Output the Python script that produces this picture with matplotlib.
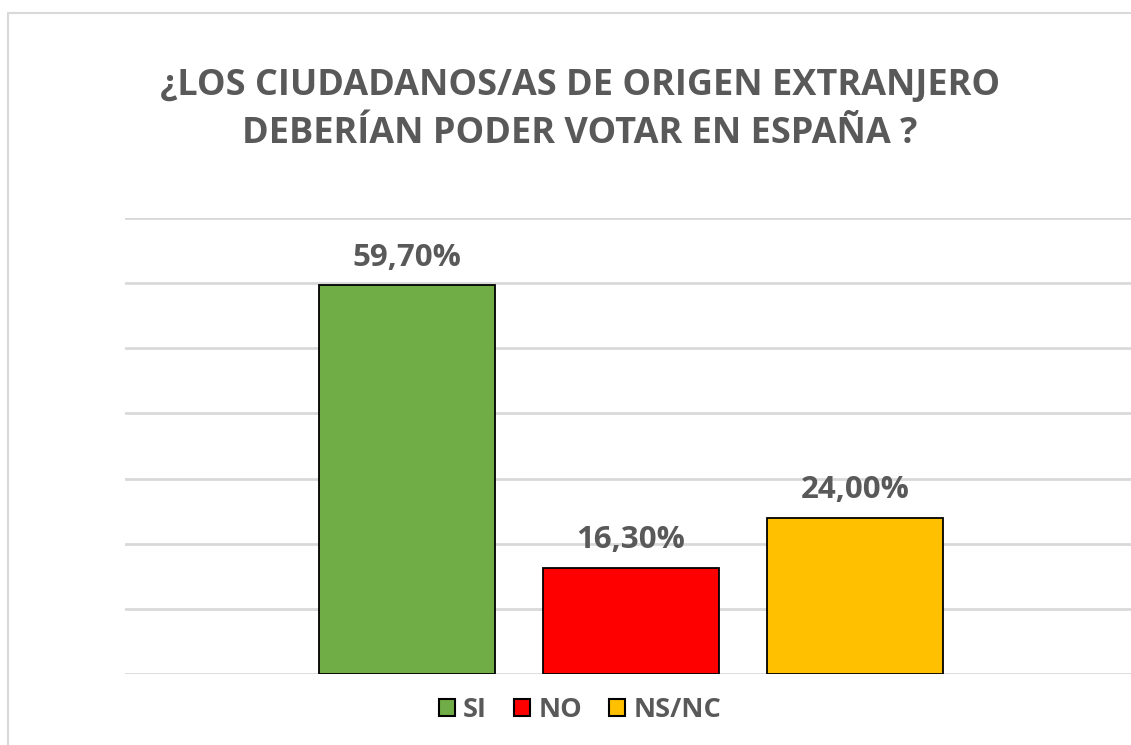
import matplotlib
matplotlib.use("Agg")
import matplotlib.pyplot as plt
from matplotlib.patches import Rectangle

# data
labels = ["SI", "NO", "NS/NC"]
values = [59.7, 16.3, 24.0]
colors = ["#70ad47", "#ff0000", "#ffc000"]
value_labels = ["59,70%", "16,30%", "24,00%"]

W, H = 1131, 745
plt.rcParams['font.family'] = ['Open Sans', 'DejaVu Sans']
txt = "#595959"

fig = plt.figure(figsize=(W / 100, H / 100), dpi=100)

# chart border (cut off on right and bottom as in the picture)
fig.patches.append(Rectangle((8 / W, -0.1), 1.2, 1 - 13 / H + 0.1, transform=fig.transFigure,
                             fill=False, edgecolor="#d9d9d9", linewidth=1.5))

ax = fig.add_axes([125 / W, (H - 674) / H, (1137 - 125) / W, (674 - 218) / H])
x = range(len(values))
ax.bar(x, values, width=0.79, color=colors, edgecolor="black", linewidth=1.3, zorder=3,
       label=labels)
ax.set_xlim(-1.259, 3.259)
ax.set_ylim(0, 70)
ax.set_yticks(range(0, 71, 10))
ax.yaxis.grid(True, color="#d9d9d9", linewidth=2)
ax.tick_params(left=False, bottom=False, labelleft=False, labelbottom=False)
for s in ax.spines.values():
    s.set_visible(False)

for i, v in enumerate(values):
    ax.annotate(value_labels[i], (i, v), xytext=(0, 9), textcoords="offset points",
                ha="center", va="bottom", fontsize=22.5, fontweight="bold", color=txt)

fig.text(580 / W, 1 - 110 / H, "¿LOS CIUDADANOS/AS DE ORIGEN EXTRANJERO\nDEBERÍAN PODER VOTAR EN ESPAÑA ?",
         ha="center", va="center", fontsize=26, fontweight="bold", color=txt, linespacing=1.45)

handles = [Rectangle((0, 0), 1, 1, facecolor=c, edgecolor="black", linewidth=1.5) for c in colors]
fig.legend(handles, labels, loc="center", bbox_to_anchor=(580 / W, 1 - 710 / H), ncol=3,
           frameon=False, prop={"weight": "bold", "size": 19.5},
           handlelength=0.6, handleheight=0.6, handletextpad=0.3, columnspacing=1.0,
           labelcolor=txt)

fig.savefig("out.png", dpi=100)
